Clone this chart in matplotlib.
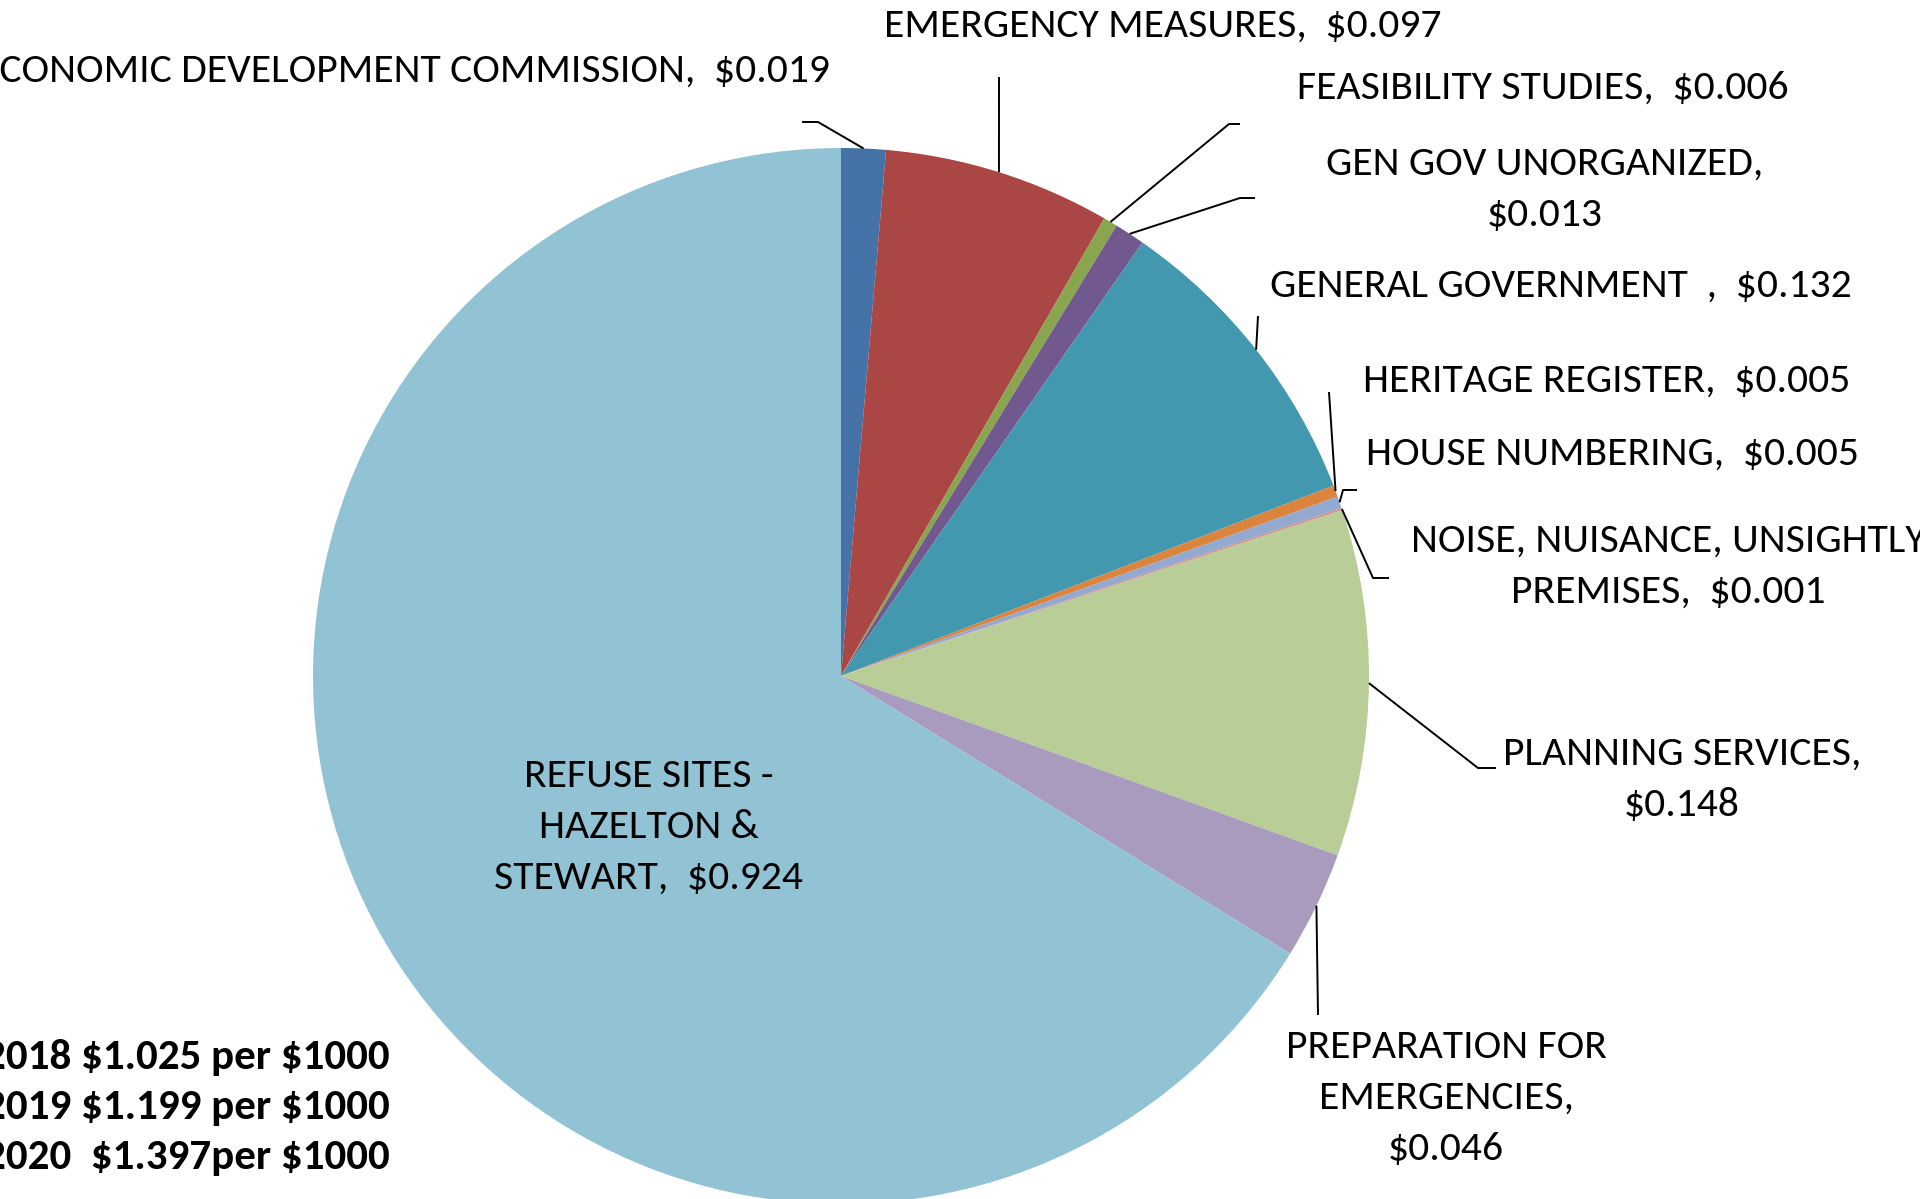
import numpy as np
import matplotlib
matplotlib.use("Agg")
import matplotlib.pyplot as plt

# 2020 tax requisition by service, $ per $1000 of assessment
services = [
    "ECONOMIC DEVELOPMENT COMMISSION",
    "EMERGENCY MEASURES",
    "FEASIBILITY STUDIES",
    "GEN GOV UNORGANIZED",
    "GENERAL GOVERNMENT  ",
    "HERITAGE REGISTER",
    "HOUSE NUMBERING",
    "NOISE, NUISANCE, UNSIGHTLY PREMISES",
    "PLANNING SERVICES",
    "PREPARATION FOR EMERGENCIES",
    "REFUSE SITES - HAZELTON & STEWART",
]
rates = [0.019, 0.097, 0.006, 0.013, 0.132, 0.005, 0.005, 0.001, 0.148, 0.046, 0.924]
colors = ["#4572A7", "#AA4643", "#89A54E", "#71588F", "#4198AF", "#DB843D",
          "#93A9CF", "#D19392", "#B9CD96", "#A99BBD", "#92C3D4"]

# how each label wraps; {v} takes the value
label_fmt = [
    "ECONOMIC DEVELOPMENT COMMISSION,  {v}",
    "EMERGENCY MEASURES,  {v}",
    "FEASIBILITY STUDIES,  {v}",
    "GEN GOV UNORGANIZED,\n{v}",
    "GENERAL GOVERNMENT  ,  {v}",
    "HERITAGE REGISTER,  {v}",
    "HOUSE NUMBERING,  {v}",
    "NOISE, NUISANCE, UNSIGHTLY\nPREMISES,  {v}",
    "PLANNING SERVICES,\n{v}",
    "PREPARATION FOR\nEMERGENCIES,\n{v}",
    "REFUSE SITES -\nHAZELTON &\nSTEWART,  {v}",
]

mill_rates = ["2018 $1.025 per $1000", "2019 $1.199 per $1000", "2020  $1.397per $1000"]

W, H = 1920, 1199
CX, CY, R = 841, 676, 528  # pixel coords measured from the top

# label anchor (x, y from top, ha) and leader path (points after the pie edge)
label_pos = [
    (830, 71, "right"), (1163, 26, "center"), (1543, 88, "center"),
    (1545, 189, "center"), (1561, 286, "center"), (1607, 381, "center"),
    (1612, 454, "center"), (1668, 566, "center"), (1682, 779, "center"),
    (1446, 1098, "center"), (649, 827, "center"),
]
leaders = [
    [(818, 122), (802, 122)],
    [(999, 77)],
    [(1229, 124), (1240, 124)],
    [(1240, 198), (1255, 198)],
    [(1258, 316)],
    [(1329, 392)],
    [(1343, 490), (1357, 490)],
    [(1373, 578), (1389, 578)],
    [(1478, 768), (1496, 768)],
    [(1318, 1015)],
    None,
]


def fy(y):
    return H - y


plt.rcParams["font.family"] = ["Carlito", "IBM Plex Sans Condensed", "Liberation Sans"]
plt.rcParams["text.parse_math"] = False

fig = plt.figure(figsize=(W / 100, H / 100), dpi=100)
ax = fig.add_axes([0, 0, 1, 1])

wedges, _ = ax.pie(rates, colors=colors, startangle=90, counterclock=False,
                   radius=R, center=(CX, fy(CY)), frame=True,
                   wedgeprops=dict(linewidth=0))
ax.set_xlim(0, W)
ax.set_ylim(0, H)
ax.set_aspect("equal")
ax.axis("off")

for w, v, fmt, (lx, ly, ha), path in zip(wedges, rates, label_fmt, label_pos, leaders):
    text = fmt.format(v=f"${v:.3f}")
    ax.text(lx, fy(ly), text, ha=ha, va="center", fontsize=30,
            linespacing=1.52, multialignment="center", color="black")
    if path is None:
        continue
    mid = np.deg2rad((w.theta1 + w.theta2) / 2)
    xs = [CX + R * np.cos(mid)] + [p[0] for p in path]
    ys = [fy(CY) + R * np.sin(mid)] + [fy(p[1]) for p in path]
    ax.plot(xs, ys, color="black", lw=1.4, solid_capstyle="butt")

for i, line in enumerate(mill_rates):
    ax.text(-16, fy(1058 + 50 * i), line, ha="left", va="center",
            fontsize=31, fontweight="bold", color="black")

fig.savefig("out.png", dpi=100, facecolor="white")
